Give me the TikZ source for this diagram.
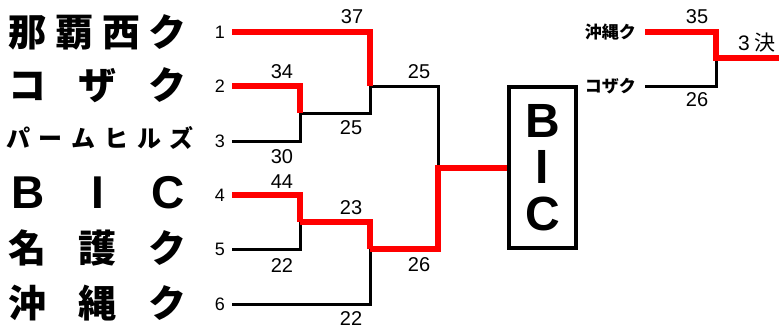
\documentclass[tikz,border=0pt]{standalone}
\usepackage{fontspec}
\setmainfont{Liberation Sans}
\newfontfamily\cjk{Noto Sans CJK JP}
\begin{document}
\begin{tikzpicture}[x=1pt,y=-1pt,
  win/.style={draw=red,line width=6pt},
  lose/.style={draw=black,line width=3pt},
  seed/.style={inner sep=0pt,font=\fontsize{18}{20}\selectfont},
  score/.style={inner sep=0pt,font=\fontsize{20}{22}\selectfont},
  team/.style={inner sep=0pt,font=\cjk\bfseries\fontsize{38}{40}\selectfont},
  smallteam/.style={inner sep=0pt,anchor=east,font=\cjk\bfseries\fontsize{17}{19}\selectfont},
  champ/.style={draw=black,line width=4pt,minimum width=67pt,minimum height=161pt,inner sep=0pt,align=center,
     font=\bfseries\fontsize{48}{46.5}\selectfont}]
\useasboundingbox (0,0) rectangle (779,329);
% team names
\node[team] (t1) at (98,32) {\hbox to 178pt{那\hfil 覇\hfil 西\hfil ク}};
\node[team] (t2) at (98,85) {\hbox to 178pt{コ\hfil ザ\hfil ク}};
\node[team,font=\cjk\bfseries\fontsize{24}{26}\selectfont] (t3) at (100,138) {\hbox to 188pt{パ\hfil ー\hfil ム\hfil ヒ\hfil ル\hfil ズ}};
\node[team,font=\bfseries\fontsize{46}{48}\selectfont] (t4) at (98,193) {\hbox to 178pt{\makebox[38pt]{B}\hfil\makebox[38pt]{I}\hfil\makebox[38pt]{C}}};
\node[team] (t5) at (98,248) {\hbox to 178pt{名\hfil 護\hfil ク}};
\node[team] (t6) at (98,303) {\hbox to 178pt{沖\hfil 縄\hfil ク}};
% seeds
\node[seed] (s1) at (220,32) {1};
\node[seed] (s2) at (220,86) {2};
\node[seed] (s3) at (220,141) {3};
\node[seed] (s4) at (220,195) {4};
\node[seed] (s5) at (220,249) {5};
\node[seed] (s6) at (220,304) {6};
\coordinate (a1) at (232,32);
\coordinate (a2) at (232,86);
\coordinate (a3) at (232,141);
\coordinate (a4) at (232,195);
\coordinate (a5) at (232,249);
\coordinate (a6) at (232,304);
\coordinate (j23) at (300,113);
\coordinate (j123) at (370,86);
\coordinate (j45) at (300,222);
\coordinate (j456) at (370,249);
\coordinate (jf) at (438,167.5);
% box
\node[champ] (box) at (542.5,167.5) {B\\I\\C};
% losing lines
\draw[lose] (a3) -| (j23);
\draw[lose] (j23) -| (j123);
\draw[lose] (j123) -| (jf);
\draw[lose] (a5) -| (j45);
\draw[lose] (a6) -| (j456);
% winning lines
\draw[win] (a1) -| (j123);
\draw[win] (a2) -| (j23);
\draw[win] (a4) -| (j45);
\draw[win] (j45) -| (j456);
\draw[win] (j456) -| (jf) -- (box.west);
% scores
\node[score] (c37) at (352,17) {37};
\node[score] (c34) at (282,72) {34};
\node[score] (c30) at (282,157) {30};
\node[score] (c25a) at (351,128) {25};
\node[score] (c25b) at (419,72) {25};
\node[score] (c44) at (282,182) {44};
\node[score] (c23) at (351,208) {23};
\node[score] (c22a) at (282,266) {22};
\node[score] (c26) at (419,265) {26};
\node[score] (c22b) at (351,319) {22};
% third place
\node[smallteam] (r1) at (636,32) {沖縄ク};
\node[smallteam] (r2) at (636,86) {コザク};
\coordinate (b1) at (645,32);
\coordinate (b2) at (645,86);
\coordinate (jr) at (716,58);
\coordinate (rend) at (779,58);
\draw[lose] (b2) -| (jr);
\draw[win] (b1) -| (jr) -- (rend);
\node[score] (c35) at (697,17) {35};
\node[score] (c26r) at (697,100) {26};
\node[score,font=\fontsize{21}{23}\selectfont] (third) at (757,43) {3\hspace{5pt}{\cjk 決}};
\end{tikzpicture}
\end{document}
